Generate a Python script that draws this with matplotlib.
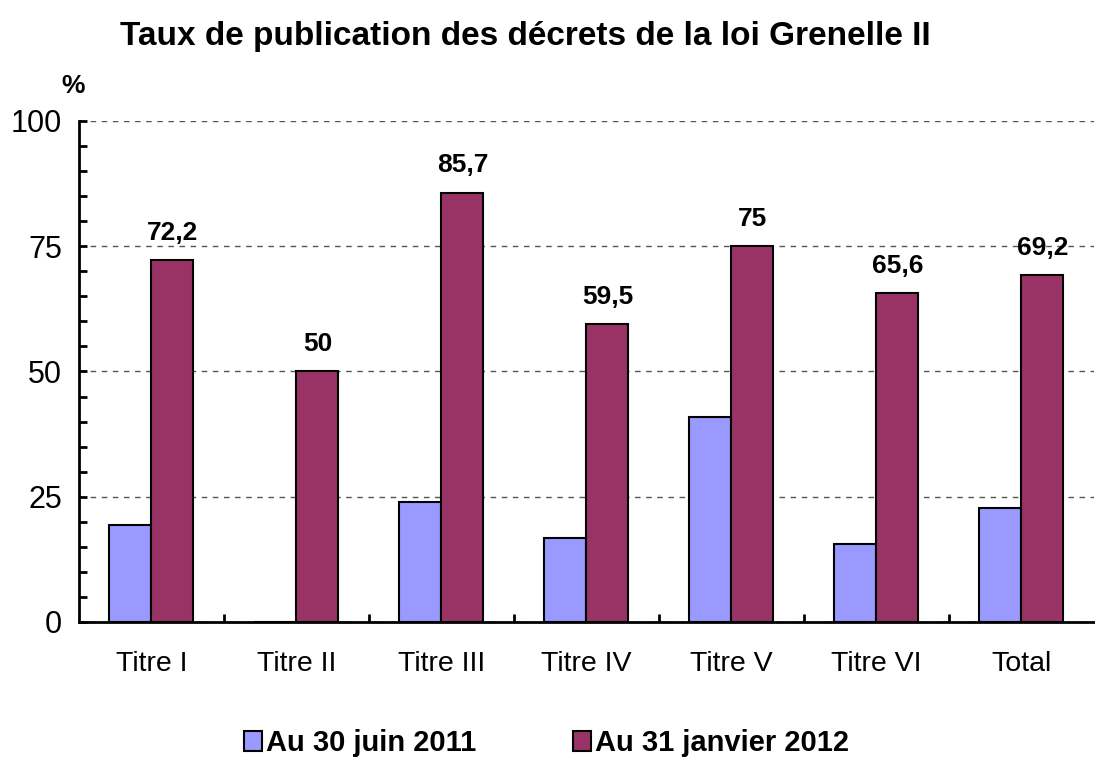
import matplotlib.pyplot as plt
import numpy as np
from matplotlib.ticker import MultipleLocator, FixedLocator

plt.rcParams['font.family'] = ['Liberation Sans', 'DejaVu Sans']

categories = ['Titre I', 'Titre II', 'Titre III', 'Titre IV', 'Titre V', 'Titre VI', 'Total']
juin_2011 = [19.4, 0, 23.9, 16.8, 40.9, 15.6, 22.8]
janvier_2012 = [72.2, 50, 85.7, 59.5, 75, 65.6, 69.2]
labels_2012 = ['72,2', '50', '85,7', '59,5', '75', '65,6', '69,2']
series_names = ['Au 30 juin 2011', 'Au 31 janvier 2012']

fig = plt.figure(figsize=(10.95, 7.6), dpi=100)
ax = fig.add_axes([0.072, 0.1816, 0.927, 0.6592])

x = np.arange(len(categories))
w = 0.29
b1 = ax.bar(x - w / 2, juin_2011, w, color='#9999ff', edgecolor='black', linewidth=1.5,
            label=series_names[0], zorder=3)
b2 = ax.bar(x + w / 2, janvier_2012, w, color='#993366', edgecolor='black', linewidth=1.5,
            label=series_names[1], zorder=3)

for xi, v, t in zip(x, janvier_2012, labels_2012):
    ax.annotate(t, xy=(xi + w / 2, v), xytext=(0, 11), textcoords='offset points',
                ha='center', va='bottom', fontsize=19, fontweight='bold')

ax.set_xlim(-0.5, len(categories) - 0.5)
ax.set_ylim(0, 100)
ax.yaxis.set_major_locator(MultipleLocator(25))
ax.yaxis.set_minor_locator(MultipleLocator(5))
ax.grid(axis='y', which='major', linestyle=(0, (4, 4)), color='#555555', linewidth=1, zorder=0)

ax.set_xticks(x)
ax.set_xticklabels(categories, fontsize=20.5)
ax.xaxis.set_minor_locator(FixedLocator(x[:-1] + 0.5))
ax.tick_params(axis='x', which='major', length=0, pad=21)
ax.tick_params(axis='x', which='minor', direction='in', length=6, width=2)
ax.tick_params(axis='y', which='both', direction='in', length=6, width=2, labelsize=22, pad=12)

for s in ['top', 'right']:
    ax.spines[s].set_visible(False)
for s in ['left', 'bottom']:
    ax.spines[s].set_linewidth(2)

fig.text(0.067, 0.878, '%', fontsize=19, fontweight='bold', ha='center')
fig.suptitle('Taux de publication des décrets de la loi Grenelle II', x=0.48, y=0.972,
             fontsize=24, fontweight='bold')

fig.legend(handles=[b1, b2], loc='lower center', bbox_to_anchor=(0.499, -0.031), ncol=2,
           frameon=False, prop={'size': 21, 'weight': 'bold'}, handlelength=0.62,
           handleheight=0.7, handletextpad=0.15, columnspacing=3.3)

fig.savefig('out.png', dpi=100)
